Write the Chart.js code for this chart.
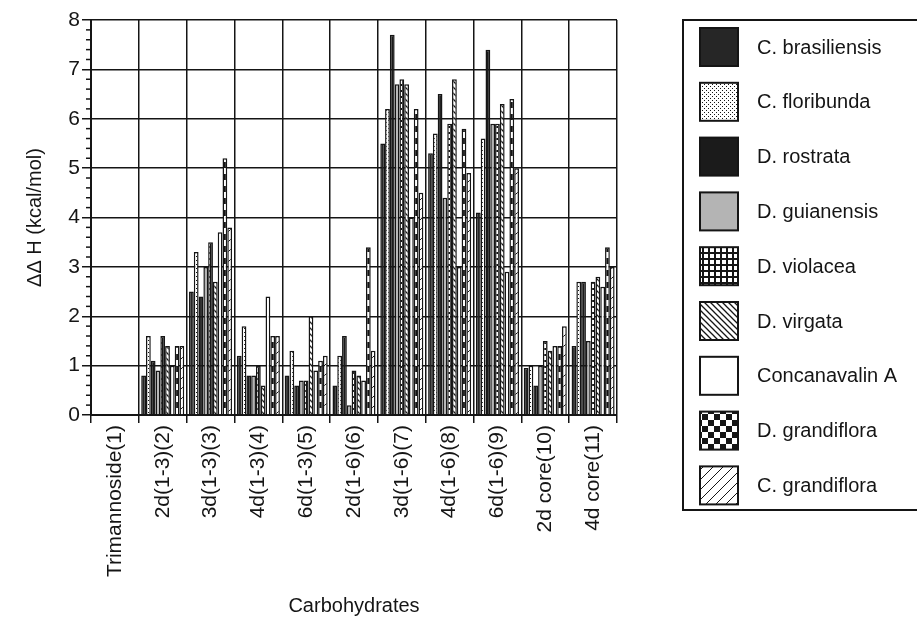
<!DOCTYPE html>
<html>
<head>
<meta charset="utf-8">
<script src="https://cdn.jsdelivr.net/npm/chart.js@4.4.1/dist/chart.umd.min.js"></script>
<style>
  html, body { margin: 0; padding: 0; background: #fff; }
  #wrap { width: 917px; height: 618px; }
</style>
</head>
<body>
<div id="wrap"><canvas id="chart" width="917" height="618"></canvas></div>
<script>
// Carbohydrate ligands (x categories)
const categories = [
  "Trimannoside(1)", "2d(1-3)(2)", "3d(1-3)(3)", "4d(1-3)(4)", "6d(1-3)(5)",
  "2d(1-6)(6)", "3d(1-6)(7)", "4d(1-6)(8)", "6d(1-6)(9)", "2d core(10)", "4d core(11)"
];

// ΔΔH values (kcal/mol) per lectin
const cBrasiliensis = [0, 0.8, 2.5, 1.2, 0.8, 0.6, 5.5, 5.3, 4.1, 0.95, 1.4];
const cFloribunda   = [0, 1.6, 3.3, 1.8, 1.3, 1.2, 6.2, 5.7, 5.6, 1.0, 2.7];
const dRostrata     = [0, 1.1, 2.4, 0.8, 0.6, 1.6, 7.7, 6.5, 7.4, 0.6, 2.7];
const dGuianensis   = [0, 0.9, 3.0, 0.8, 0.7, 0.2, 6.7, 4.4, 5.9, 1.0, 1.5];
const dViolacea     = [0, 1.6, 3.5, 1.0, 0.7, 0.9, 6.8, 5.9, 5.9, 1.5, 2.7];
const dVirgata      = [0, 1.4, 2.7, 0.6, 2.0, 0.8, 6.7, 6.8, 6.3, 1.3, 2.8];
const concanavalinA = [0, 1.0, 3.7, 2.4, 0.9, 0.7, 4.0, 3.0, 2.9, 1.4, 2.6];
const dGrandiflora  = [0, 1.4, 5.2, 1.6, 1.1, 3.4, 6.2, 5.8, 6.4, 1.4, 3.4];
const cGrandiflora  = [0, 1.4, 3.8, 1.6, 1.2, 1.3, 4.5, 4.9, 5.0, 1.8, 3.0];

const seriesNames = [
  "C. brasiliensis", "C. floribunda", "D. rostrata", "D. guianensis", "D. violacea",
  "D. virgata", "Concanavalin A", "D. grandiflora", "C. grandiflora"
];
const seriesData = [
  cBrasiliensis, cFloribunda, dRostrata, dGuianensis, dViolacea,
  dVirgata, concanavalinA, dGrandiflora, cGrandiflora
];

const yTicks = [0, 1, 2, 3, 4, 5, 6, 7, 8];

const INK = "#151515";
Chart.defaults.font.family = "'Liberation Sans', Arial, sans-serif";
Chart.defaults.color = INK;

const canvas = document.getElementById("chart");
const ctx = canvas.getContext("2d");

// Helper: build a repeating fill pattern
function makePattern(size, draw) {
  const tile = document.createElement("canvas");
  tile.width = size;
  tile.height = size;
  const g = tile.getContext("2d");
  g.fillStyle = "#fff";
  g.fillRect(0, 0, size, size);
  g.fillStyle = INK;
  g.strokeStyle = INK;
  draw(g, size);
  return ctx.createPattern(tile, "repeat");
}

const dots = makePattern(4, (g) => {
  g.fillRect(0, 0, 1, 1);
  g.fillRect(2, 2, 1, 1);
});
const gridFill = makePattern(6, (g) => {
  g.fillRect(0, 0, 6, 2);
  g.fillRect(0, 0, 2, 6);
});
const backHatch = makePattern(6, (g) => {
  g.lineWidth = 1.3;
  g.beginPath();
  g.moveTo(-1, -1); g.lineTo(7, 7);
  g.moveTo(-1, 5); g.lineTo(1, 7);
  g.moveTo(5, -1); g.lineTo(7, 1);
  g.stroke();
});
const checker = makePattern(12, (g) => {
  g.fillRect(0, 0, 6, 6);
  g.fillRect(6, 6, 6, 6);
});
const fwdHatch = makePattern(10, (g) => {
  g.lineWidth = 1;
  g.beginPath();
  g.moveTo(-1, 11); g.lineTo(11, -1);
  g.moveTo(-1, 1); g.lineTo(1, -1);
  g.moveTo(9, 11); g.lineTo(11, 9);
  g.stroke();
});

const fills = [
  "#262626", dots, "#1b1b1b", "#b4b4b4", gridFill,
  backHatch, "#ffffff", checker, fwdHatch
];

// Minor ticks on the y axis (every 0.2)
const minorTicks = {
  id: "minorTicks",
  afterDraw(chart) {
    const y = chart.scales.y;
    const x0 = chart.chartArea.left;
    const c = chart.ctx;
    c.save();
    c.strokeStyle = INK;
    c.lineWidth = 1.5;
    for (let i = 1; i < 40; i++) {
      if (i % 5 === 0) continue;
      const py = y.getPixelForValue(i / 5);
      c.beginPath();
      c.moveTo(x0 - 5, py);
      c.lineTo(x0, py);
      c.stroke();
    }
    c.restore();
  },
};

// Framed legend on the right
const boxLegend = {
  id: "boxLegend",
  afterDraw(chart) {
    const c = chart.ctx;
    c.save();
    c.strokeStyle = INK;
    c.lineWidth = 2;
    c.strokeRect(683, 20, 260, 490);
    c.font = "20px 'Liberation Sans', Arial, sans-serif";
    c.textBaseline = "middle";
    chart.data.datasets.forEach((ds, i) => {
      const top = 28 + i * 54.8;
      c.fillStyle = ds.backgroundColor;
      c.fillRect(700, top, 38, 38);
      c.lineWidth = 2;
      c.strokeRect(700, top, 38, 38);
      c.fillStyle = INK;
      c.fillText(ds.label, 757, top + 20);
    });
    c.restore();
  },
};

const datasets = seriesNames.map((name, i) => ({
  label: name,
  data: seriesData[i],
  backgroundColor: fills[i],
  borderColor: INK,
  borderWidth: 1.5,
  categoryPercentage: 0.9,
  barPercentage: 1.0,
}));

new Chart(ctx, {
  type: "bar",
  data: { labels: categories, datasets: datasets },
  plugins: [minorTicks, boxLegend],
  options: {
    responsive: false,
    animation: false,
    layout: { padding: { top: 20, right: 300, left: 0, bottom: 0 } },
    plugins: {
      legend: { display: false },
      tooltip: { enabled: false },
    },
    scales: {
      x: {
        grid: { color: INK, lineWidth: 1.5, tickLength: 8, offset: true },
        border: { color: INK, width: 2 },
        ticks: {
          color: INK,
          font: { size: 21 },
          minRotation: 90,
          maxRotation: 90,
          autoSkip: false,
          padding: 2,
        },
        title: {
          display: true,
          text: "Carbohydrates",
          color: INK,
          font: { size: 20 },
          padding: { top: 6, bottom: 0 },
        },
        afterFit: (s) => { s.height = 203; },
      },
      y: {
        min: 0,
        max: 8,
        afterBuildTicks: (s) => { s.ticks = yTicks.map((v) => ({ value: v })); },
        grid: { color: INK, lineWidth: 1.5, tickLength: 9 },
        border: { color: INK, width: 2 },
        ticks: { color: INK, font: { size: 21 }, padding: 2 },
        title: {
          display: true,
          text: "ΔΔ H (kcal/mol)",
          color: INK,
          font: { size: 20 },
          padding: { top: 23, bottom: 0 },
        },
        afterFit: (s) => { s.width = 91; },
      },
    },
  },
});
</script>
</body>
</html>
